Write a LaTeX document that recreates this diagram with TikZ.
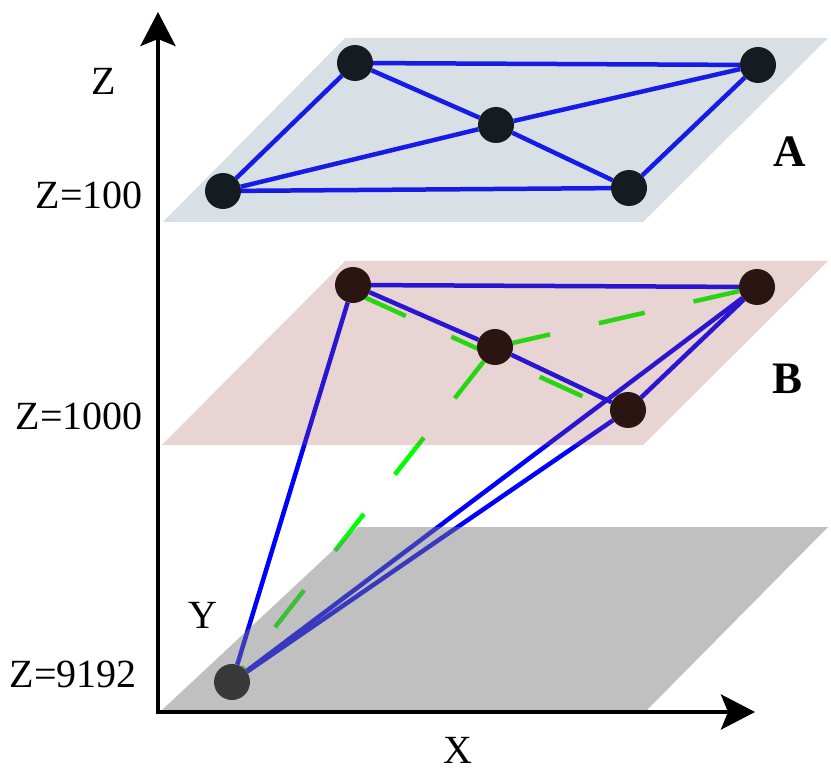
\documentclass[tikz,border=0pt]{standalone}
\usepackage{fontspec}
\setmainfont{Liberation Serif}
\usetikzlibrary{arrows.meta,backgrounds}
\definecolor{planeA}{RGB}{87,122,148}
\definecolor{planeB}{RGB}{165,86,78}
\definecolor{planeC}{RGB}{122,122,122}

\begin{document}
\begin{tikzpicture}[x=1pt,y=-1pt,
	vert/.style={circle,fill=black,minimum size=36pt,inner sep=0pt},
	edge/.style={line width=4.5pt,blue},
	gdash/.style={line width=4.5pt,green,dash pattern=on 47pt off 50pt},
	axis/.style={line width=4pt,{Stealth[length=34pt,width=35pt,inset=7pt]}-{Stealth[length=34pt,width=35pt,inset=7pt]}},
	lbl/.style={font=\fontsize{40}{48}\selectfont,inner sep=0pt},
	tag/.style={font=\fontsize{45}{54}\selectfont\bfseries,inner sep=0pt}]
	\useasboundingbox (0,0) rectangle (831,773);
	% plane A
	\node[vert] (a1) at (355,63) {};
	\node[vert] (a2) at (758,65) {};
	\node[vert] (a3) at (496,125) {};
	\node[vert] (a4) at (223,191) {};
	\node[vert] (a5) at (629,188) {};
	% plane B
	\node[vert] (b1) at (353,285) {};
	\node[vert] (b2) at (757,287) {};
	\node[vert] (b3) at (495,347) {};
	\node[vert] (b4) at (628,410) {};
	% bottom plane
	\node[vert] (c1) at (232,682) {};
	\begin{scope}[on background layer]
		\draw[edge] (a1) -- (a2);
		\draw[edge] (a1) -- (a4);
		\draw[edge] (a4) -- (a5);
		\draw[edge] (a5) -- (a2);
		\draw[edge] (a1) -- (a3);
		\draw[edge] (a3) -- (a5);
		\draw[edge] (a4) -- (a3);
		\draw[edge] (a3) -- (a2);
		\draw[edge] (b1) -- (b2);
		\draw[edge] (b1) -- (b3);
		\draw[edge] (b3) -- (b4);
		\draw[edge] (b4) -- (b2);
		\draw[edge] (c1) -- (b1);
		\draw[edge] (c1) -- (b2);
		\draw[edge] (c1) -- (b4);
		\draw[gdash] (b2) -- (b3);
		\draw[gdash] (b3) -- (c1);
		\draw[gdash,shorten <=11pt] ([yshift=-7pt]b1.center) -- ([yshift=-7pt]b4.center);
	\end{scope}
	\fill[planeA,fill opacity=.23] (163,222) -- (643,222) -- (828,38) -- (345,38) -- cycle;
	\fill[planeB,fill opacity=.255] (162,445) -- (643,445) -- (828,261) -- (345,261) -- cycle;
	\fill[planeC,fill opacity=.475] (162,710) -- (647,710) -- (828,527) -- (358,527) -- cycle;
	% axes
	\coordinate (o) at (158,712);
	\coordinate (ztip) at (158,12);
	\coordinate (xtip) at (755,712);
	\draw[axis] (ztip) -- (o) -- (xtip);
	\node[lbl] (zlab) at (104,81) {Z};
	\node[lbl,anchor=east] (z100) at (143,195) {Z=100};
	\node[lbl,anchor=east] (z1000) at (143,416) {Z=1000};
	\node[lbl,anchor=east] (z9192) at (137,674) {Z=9192};
	\node[lbl] (ylab) at (203,615) {Y};
	\node[lbl] (xlab) at (458,750) {X};
	\node[tag] (tagA) at (790,152) {A};
	\node[tag] (tagB) at (788,379) {B};
\end{tikzpicture}
\end{document}
